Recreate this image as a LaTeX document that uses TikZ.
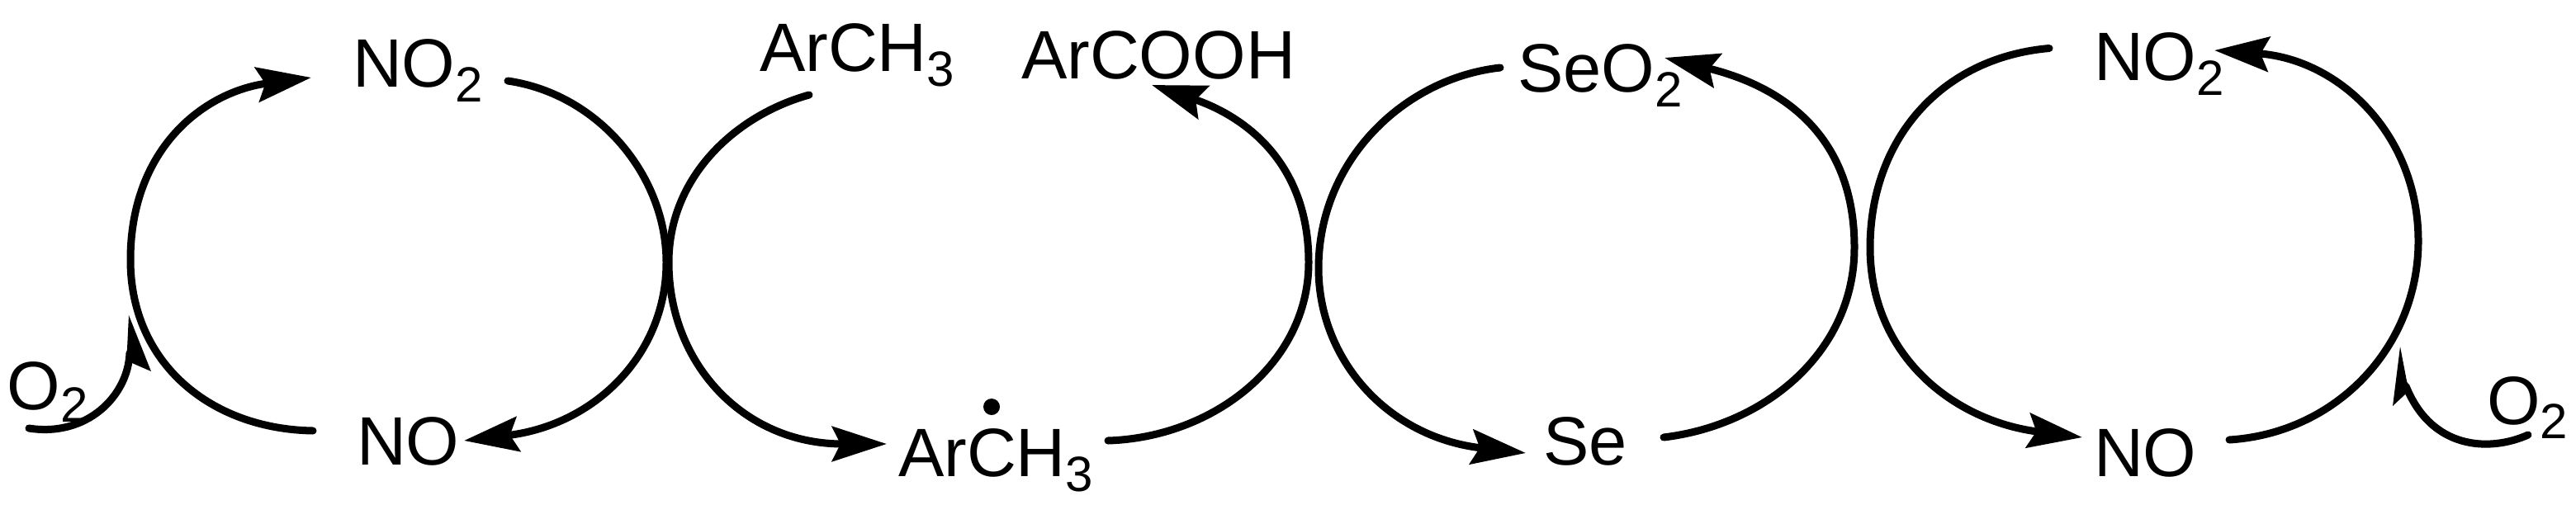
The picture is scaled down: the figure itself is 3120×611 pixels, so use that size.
\documentclass[tikz,border=0pt]{standalone}
\usepackage{fontspec}
\setmainfont{Liberation Sans}
\usetikzlibrary{arrows.meta}
\newcommand\subs[2][-18pt]{\raisebox{#1}{\fontsize{60}{60}\selectfont #2}}
\tikzset{
  lab/.style={anchor=base west,inner sep=0pt,outer sep=0pt,font=\fontsize{83}{90}\selectfont},
  arc/.style={line width=9pt,line cap=round,-{Stealth[length=66pt,width=42pt,inset=10pt]}},
  small/.style={line width=9pt,line cap=round},
  radical/.style={circle,fill=black,inner sep=0pt,minimum size=20pt}
}
\begin{document}
\begin{tikzpicture}[x=1pt,y=-1pt]
\useasboundingbox (0,0) rectangle (3120,611);
% labels
\node[lab] (no2a) at (427,105) {NO\subs{2}};
\node[lab] (noa) at (432,563.5) {NO};
\node[lab] (tol) at (920,86) {ArCH\subs{3}};
\node[lab] (acid) at (1237,95) {ArCOOH};
\node[lab] (rad) at (1088,577) {ArCH\subs{3}};
\node[radical] (dot) at (1201,493) {};
\node[lab] (seo) at (1838,111) {SeO\subs{2}};
\node[lab] (se) at (1869,563.5) {Se};
\node[lab] (no2b) at (2536,97.5) {NO\subs{2}};
\node[lab] (nob) at (2536,577) {NO};
\node[lab] (o2a) at (9,496) {O\subs[-15pt]{2}};
\node[lab] (o2b) at (3012,514) {O\subs[-17pt]{2}};
% connector ends
\coordinate (a1) at (379,522);
\coordinate (a2) at (377,94);
\coordinate (b1) at (615,98);
\coordinate (b2) at (562,534);
\coordinate (c1) at (980,115);
\coordinate (c2) at (1074,538);
\coordinate (d1) at (1342,534);
\coordinate (d2) at (1395,103);
\coordinate (e1) at (1817,82);
\coordinate (e2) at (1848,549);
\coordinate (f1) at (2015,530);
\coordinate (f2) at (2016,70);
\coordinate (g1) at (2482,58.5);
\coordinate (g2) at (2522,530);
\coordinate (h1) at (2700,533);
\coordinate (h2) at (2682,61);
% arcs
\draw[arc] (a1) .. controls (255,520) and (158,440) .. (158,315)
  .. controls (158,180) and (247,111) .. (a2);
\draw[arc] (b1) .. controls (725,114) and (807,213) .. (807,318)
  .. controls (807,430) and (720,515) .. (b2);
\draw[arc] (c1) .. controls (890,140) and (810,215) .. (810,318)
  .. controls (810,440) and (900,538) .. (c2);
\draw[arc] (d1) .. controls (1470,530) and (1585,440) .. (1585,318)
  .. controls (1585,195) and (1505,140) .. (d2);
\draw[arc] (e1) .. controls (1700,95) and (1597,195) .. (1597,325)
  .. controls (1597,435) and (1680,530) .. (e2);
\draw[arc] (f1) .. controls (2140,515) and (2246,425) .. (2246,300)
  .. controls (2246,150) and (2140,100) .. (f2);
\draw[arc] (g1) .. controls (2350,70) and (2265,170) .. (2265,300)
  .. controls (2265,430) and (2365,510) .. (g2);
\draw[arc] (h1) .. controls (2830,525) and (2929,420) .. (2929,292)
  .. controls (2929,165) and (2835,72) .. (h2);
% oxygen arrows
\coordinate (i1) at (35,519);
\coordinate (i2) at (156,382);
\coordinate (j1) at (3062,527);
\coordinate (j2) at (2907,420);
\draw[small] (i1) .. controls (105,530) and (155,480) .. (157,428);
\draw[small] (j1) .. controls (3015,548) and (2945,545) .. (2914,468);
\fill (i2) -- (183,450) -- (160,440) -- (150,452) -- (154,423) -- cycle;
\fill (j2) -- (2898,492) -- (2913,478) -- (2918,470) -- (2915,462) -- cycle;
\end{tikzpicture}
\end{document}
